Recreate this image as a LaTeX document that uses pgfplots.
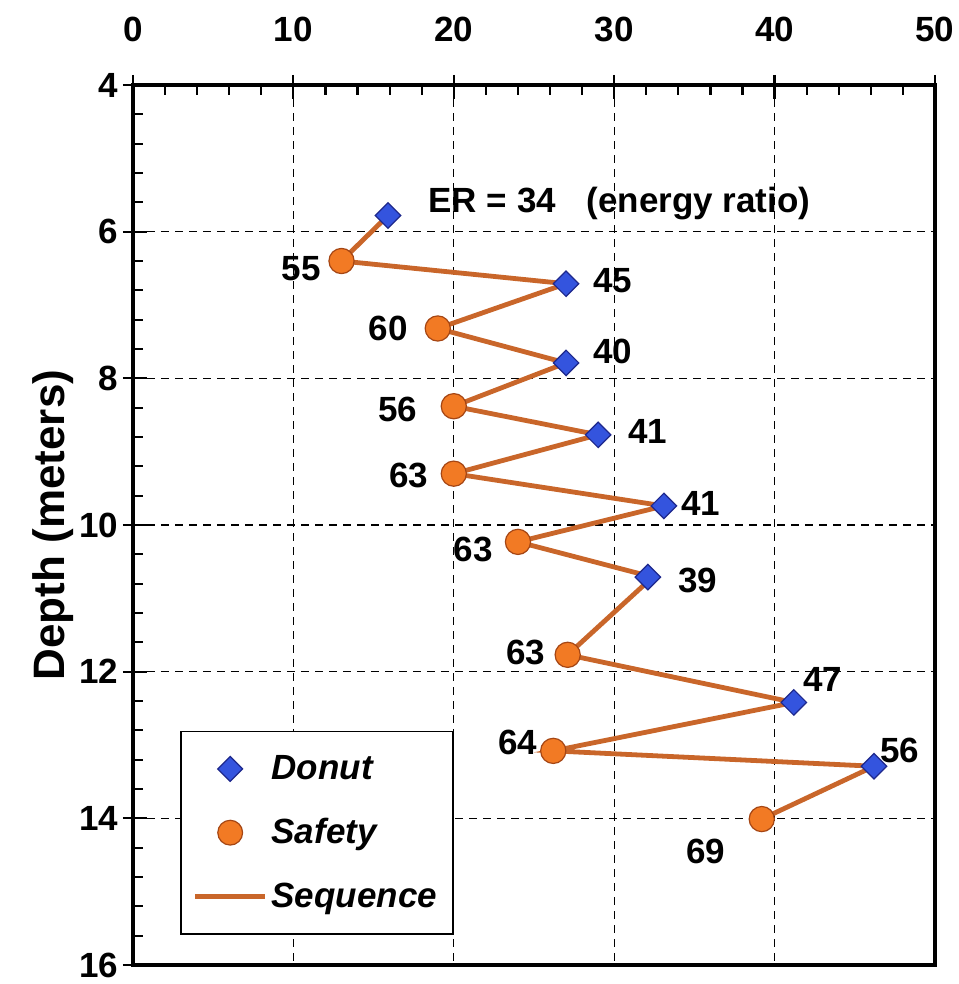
\documentclass[border=0pt]{standalone}
\usepackage{pgfplots}
\pgfplotsset{compat=1.18}
\usepackage{fontspec}
\setmainfont{Liberation Sans}
\definecolor{seqc}{RGB}{201,102,42}
\definecolor{safefill}{RGB}{242,122,36}
\definecolor{safedraw}{RGB}{165,70,20}
\definecolor{donutfill}{RGB}{52,84,222}
\definecolor{donutdraw}{RGB}{30,40,140}
\begin{document}
\begin{tikzpicture}
\useasboundingbox (-66.5pt,-9.5pt) rectangle (412.5pt,482.5pt);
\begin{axis}[
  at={(0,0)}, anchor=south west,
  scale only axis, width=401pt, height=440pt,
  xmin=0, xmax=50, ymin=4, ymax=16, y dir=reverse,
  xtick={0,10,...,50}, ytick={4,6,...,16},
  minor x tick num=4, minor y tick num=4,
  xtick pos=right, xticklabel pos=right, ytick pos=left,
  tick align=inside, major tick length=7pt, minor tick length=5pt,
  tick style={black, line width=1.1pt},
  axis line style={line width=1.8pt},
  grid=major,
  major grid style={black, line width=0.6pt, dash pattern=on 4pt off 3pt},
  /pgf/number format/assume math mode=true,
  ticklabel style={font=\fontsize{17.5}{17.5}\selectfont\bfseries},
  xticklabel style={yshift=18pt},
  yticklabel style={xshift=-4pt},
  extra x ticks={0,10,...,50}, extra x tick labels={},
  extra x tick style={grid=none, tick align=outside, major tick length=5pt},
  extra y ticks={4,6,...,16}, extra y tick labels={},
  extra y tick style={grid=none, tick align=outside, major tick length=5pt},
  ylabel={Depth (meters)},
  ylabel style={font=\fontsize{22}{22}\selectfont\bfseries, at={(axis description cs:-0.1,0.5)}, anchor=center},
  legend image code/.code={\draw[mark repeat=2,mark phase=2,#1] plot coordinates {(0pt,0pt)(17.5pt,0pt)(35pt,0pt)};},
  legend style={at={(0.0586,0.034)}, anchor=south west, draw=black, line width=0.8pt, fill=white,
    font=\fontsize{17.5}{20}\selectfont\bfseries\itshape, row sep=14pt, inner xsep=6pt, inner ysep=10pt,
    cells={anchor=west}},
]
\addlegendimage{only marks, mark=square*, mark size=4.4pt, mark options={rotate=45, fill=donutfill, draw=donutdraw, line width=0.6pt}}
\addlegendentry{Donut}
\addlegendimage{only marks, mark=*, mark size=6.2pt, mark options={fill=safefill, draw=safedraw, line width=0.6pt}}
\addlegendentry{Safety}
\addlegendimage{no marks, seqc, line width=2.4pt}
\addlegendentry{Sequence}

% Sequence line
\addplot[forget plot, no marks, seqc, line width=2.4pt] coordinates {
 (15.9,5.78) (13.0,6.40) (27.0,6.71) (19.0,7.32) (27.0,7.79) (20.0,8.38)
 (29.0,8.77) (20.0,9.30) (33.1,9.74) (24.0,10.23) (32.4,10.71) (27.1,11.77)
 (41.2,12.42) (26.2,13.08) (46.2,13.29) (39.2,14.01)
};
% Donut
\addplot[forget plot, only marks, mark=square*, mark size=4.5pt, mark options={rotate=45, fill=donutfill, draw=donutdraw, line width=0.6pt}] coordinates {
 (15.9,5.78) (27.0,6.71) (27.0,7.79) (29.0,8.77) (33.1,9.74) (32.1,10.71) (41.2,12.42) (46.2,13.29)
};
% Safety
\addplot[forget plot, only marks, mark=*, mark size=6.3pt, mark options={fill=safefill, draw=safedraw, line width=0.6pt}] coordinates {
 (13.0,6.40) (19.0,7.32) (20.0,8.38) (20.0,9.30) (24.0,10.23) (27.1,11.77) (26.2,13.08) (39.2,14.01)
};

\tikzset{lbl/.style={font=\fontsize{17.5}{17.5}\selectfont\bfseries, inner sep=0pt}}
\node[lbl, anchor=west] at (axis cs:18.4,5.62) {ER = 34\hspace{0.6em} (energy ratio)};
\node[lbl] at (axis cs:10.5,6.51) {55};
\node[lbl] at (axis cs:29.9,6.67) {45};
\node[lbl] at (axis cs:15.9,7.32) {60};
\node[lbl] at (axis cs:29.9,7.63) {40};
\node[lbl] at (axis cs:16.5,8.42) {56};
\node[lbl] at (axis cs:32.1,8.73) {41};
\node[lbl] at (axis cs:17.2,9.33) {63};
\node[lbl] at (axis cs:35.4,9.71) {41};
\node[lbl] at (axis cs:21.2,10.33) {63};
\node[lbl] at (axis cs:35.2,10.75) {39};
\node[lbl] at (axis cs:24.5,11.74) {63};
\node[lbl] at (axis cs:43.0,12.11) {47};
\node[lbl] at (axis cs:24.0,12.97) {64};
\node[lbl] at (axis cs:47.8,13.08) {56};
\node[lbl] at (axis cs:35.7,14.45) {69};
\end{axis}
\end{tikzpicture}
\end{document}
